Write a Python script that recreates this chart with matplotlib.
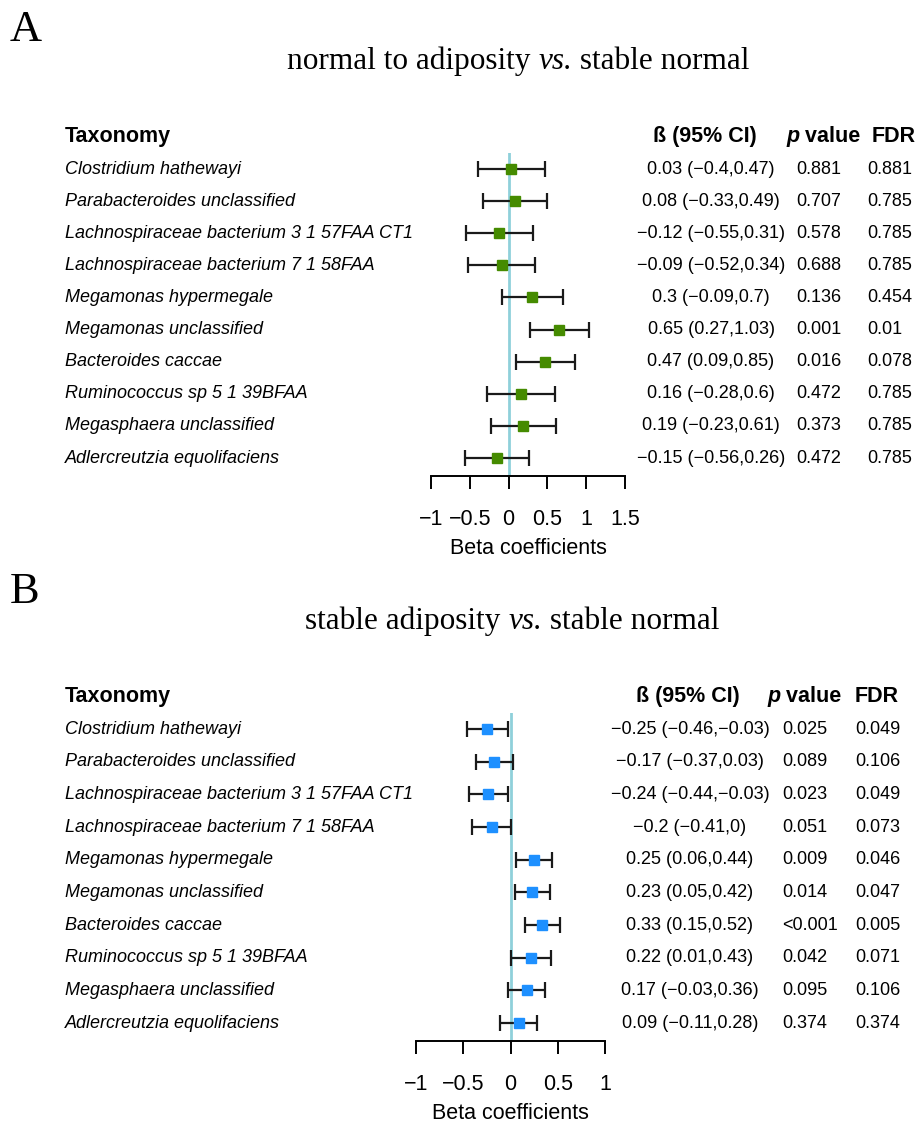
import numpy as np
import matplotlib
matplotlib.use("Agg")
import matplotlib.pyplot as plt
import matplotlib.transforms as mtransforms
from matplotlib.text import Annotation

W, H = 919, 1122

taxa = ["Clostridium hathewayi", "Parabacteroides unclassified",
        "Lachnospiraceae bacterium 3 1 57FAA CT1", "Lachnospiraceae bacterium 7 1 58FAA",
        "Megamonas hypermegale", "Megamonas unclassified", "Bacteroides caccae",
        "Ruminococcus sp 5 1 39BFAA", "Megasphaera unclassified", "Adlercreutzia equolifaciens"]

# panel A: normal to adiposity vs. stable normal
a_beta = [0.03, 0.08, -0.12, -0.09, 0.3, 0.65, 0.47, 0.16, 0.19, -0.15]
a_lo = [-0.4, -0.33, -0.55, -0.52, -0.09, 0.27, 0.09, -0.28, -0.23, -0.56]
a_hi = [0.47, 0.49, 0.31, 0.34, 0.7, 1.03, 0.85, 0.6, 0.61, 0.26]
a_p = ["0.881", "0.707", "0.578", "0.688", "0.136", "0.001", "0.016", "0.472", "0.373", "0.472"]
a_fdr = ["0.881", "0.785", "0.785", "0.785", "0.454", "0.01", "0.078", "0.785", "0.785", "0.785"]
a_ticks = [-1, -0.5, 0, 0.5, 1, 1.5]

# panel B: stable adiposity vs. stable normal
b_beta = [-0.25, -0.17, -0.24, -0.2, 0.25, 0.23, 0.33, 0.22, 0.17, 0.09]
b_lo = [-0.46, -0.37, -0.44, -0.41, 0.06, 0.05, 0.15, 0.01, -0.03, -0.11]
b_hi = [-0.03, 0.03, -0.03, 0, 0.44, 0.42, 0.52, 0.43, 0.36, 0.28]
b_p = ["0.025", "0.089", "0.023", "0.051", "0.009", "0.014", "<0.001", "0.042", "0.095", "0.374"]
b_fdr = ["0.049", "0.106", "0.049", "0.073", "0.046", "0.047", "0.005", "0.071", "0.106", "0.374"]
b_ticks = [-1, -0.5, 0, 0.5, 1]

SANS = "Liberation Sans"
SERIF = "Liberation Serif"


def fmt(v):
    return f"{v:g}".replace("-", "\u2212")


def text_chain(fig, x, y, parts, va="center"):
    # parts: list of (string, kwargs); x,y in pixels, pieces share a baseline
    s0, kw0 = parts[0]
    t = fig.text(x / W, 1 - y / H, s0, ha="left", va=va, **kw0)
    prev = t
    for s, kw in parts[1:]:
        prev = fig.add_artist(Annotation(s, xy=(1, 0), xycoords=prev, va="bottom", ha="left",
                                         annotation_clip=False, **kw))
    return t


def panel(fig, letter, title, title_x, title_y, letter_y, ax_left, ax_right, ax_top, ax_bottom,
          row0, row9, xlim, ticks, beta, lo, hi, pvals, fdrs, color, cols):
    # rows: row i sits at pixel row0 + i*step
    step = (row9 - row0) / 9.0
    y_top = -(row0 - ax_top) / step
    y_bot = (ax_bottom - row0) / step
    ax = fig.add_axes([ax_left / W, 1 - ax_bottom / H, (ax_right - ax_left) / W, (ax_bottom - ax_top) / H])
    ax.set_xlim(*xlim)
    ax.set_ylim(y_bot, y_top)
    rows = np.arange(len(beta))
    beta = np.array(beta)
    lo = np.array(lo)
    hi = np.array(hi)

    ax.axvline(0, color="#8fd0da", lw=2.0, zorder=1)
    ax.errorbar(beta, rows, xerr=[beta - lo, hi - beta], fmt="none", ecolor="#1a1a1a",
                elinewidth=1.6, capsize=5.5, capthick=1.6, zorder=2)
    ax.plot(beta, rows, "s", color=color, ms=7.5, zorder=3)

    for sp in ["left", "top", "right"]:
        ax.spines[sp].set_visible(False)
    ax.spines["bottom"].set_linewidth(1.4)
    ax.set_yticks([])
    ax.set_xticks(ticks)
    ax.set_xticklabels([fmt(t) for t in ticks], fontsize=15.5, family=SANS)
    ax.tick_params(axis="x", direction="out", length=9.5, width=1.4, pad=14)
    ax.set_xlabel("Beta coefficients", fontsize=15.5, family=SANS, labelpad=6)
    ax.patch.set_visible(False)

    tr = mtransforms.blended_transform_factory(fig.transFigure, ax.transData)
    name_x, ci_x, p_x, fdr_x, ci_hx, p_hx, fdr_hx = cols

    hdr = dict(fontsize=15.5, family=SANS, fontweight="bold")
    fig.text(name_x / W, -1, "Taxonomy", transform=tr, ha="left", va="center", **hdr)
    fig.text(ci_hx / W, -1, "\u00df (95% CI)", transform=tr, ha="center", va="center", **hdr)
    t = fig.text(p_hx / W, -1, "p", transform=tr, ha="left", va="center",
                 fontstyle="italic", **hdr)
    fig.add_artist(Annotation(" value", xy=(1, 0), xycoords=t, va="bottom",
                              ha="left", annotation_clip=False, **hdr))
    fig.text(fdr_hx / W, -1, "FDR", transform=tr, ha="left", va="center", **hdr)

    body = dict(fontsize=13, family=SANS)
    for i in rows:
        fig.text(name_x / W, i, taxa[i], transform=tr, ha="left", va="center",
                 fontstyle="italic", **body)
        ci = f"{fmt(beta[i])} ({fmt(lo[i])},{fmt(hi[i])})"
        fig.text(ci_x / W, i, ci, transform=tr, ha="center", va="center", **body)
        fig.text(p_x / W, i, pvals[i], transform=tr, ha="left", va="center", **body)
        fig.text(fdr_x / W, i, fdrs[i], transform=tr, ha="left", va="center", **body)

    # panel letter and title
    fig.text(10 / W, 1 - letter_y / H, letter, family=SERIF, fontsize=32, ha="left", va="center")
    parts = []
    for k, s in enumerate(title):
        kw = dict(family=SERIF, fontsize=22.5)
        if k == 1:
            kw["fontstyle"] = "italic"
        parts.append((s, kw))
    text_chain(fig, title_x, title_y, parts)
    return ax


def main():
    fig = plt.figure(figsize=(W / 100, H / 100), dpi=100)

    panel(fig, "A", ["normal to adiposity ", "vs.", " stable normal"], 287, 61, 30,
          431, 625, 153, 476, 169, 458, (-1, 1.5), a_ticks,
          a_beta, a_lo, a_hi, a_p, a_fdr, "#458b00",
          (65, 711, 796, 867, 705, 786, 872))

    panel(fig, "B", ["stable adiposity ", "vs.", " stable normal"], 305, 621, 592,
          416, 605, 713, 1041, 729, 1023, (-1, 1), b_ticks,
          b_beta, b_lo, b_hi, b_p, b_fdr, "#1e90ff",
          (65, 690, 782, 855, 688, 767, 855))

    fig.savefig("out.png", dpi=100)


if __name__ == "__main__":
    main()
